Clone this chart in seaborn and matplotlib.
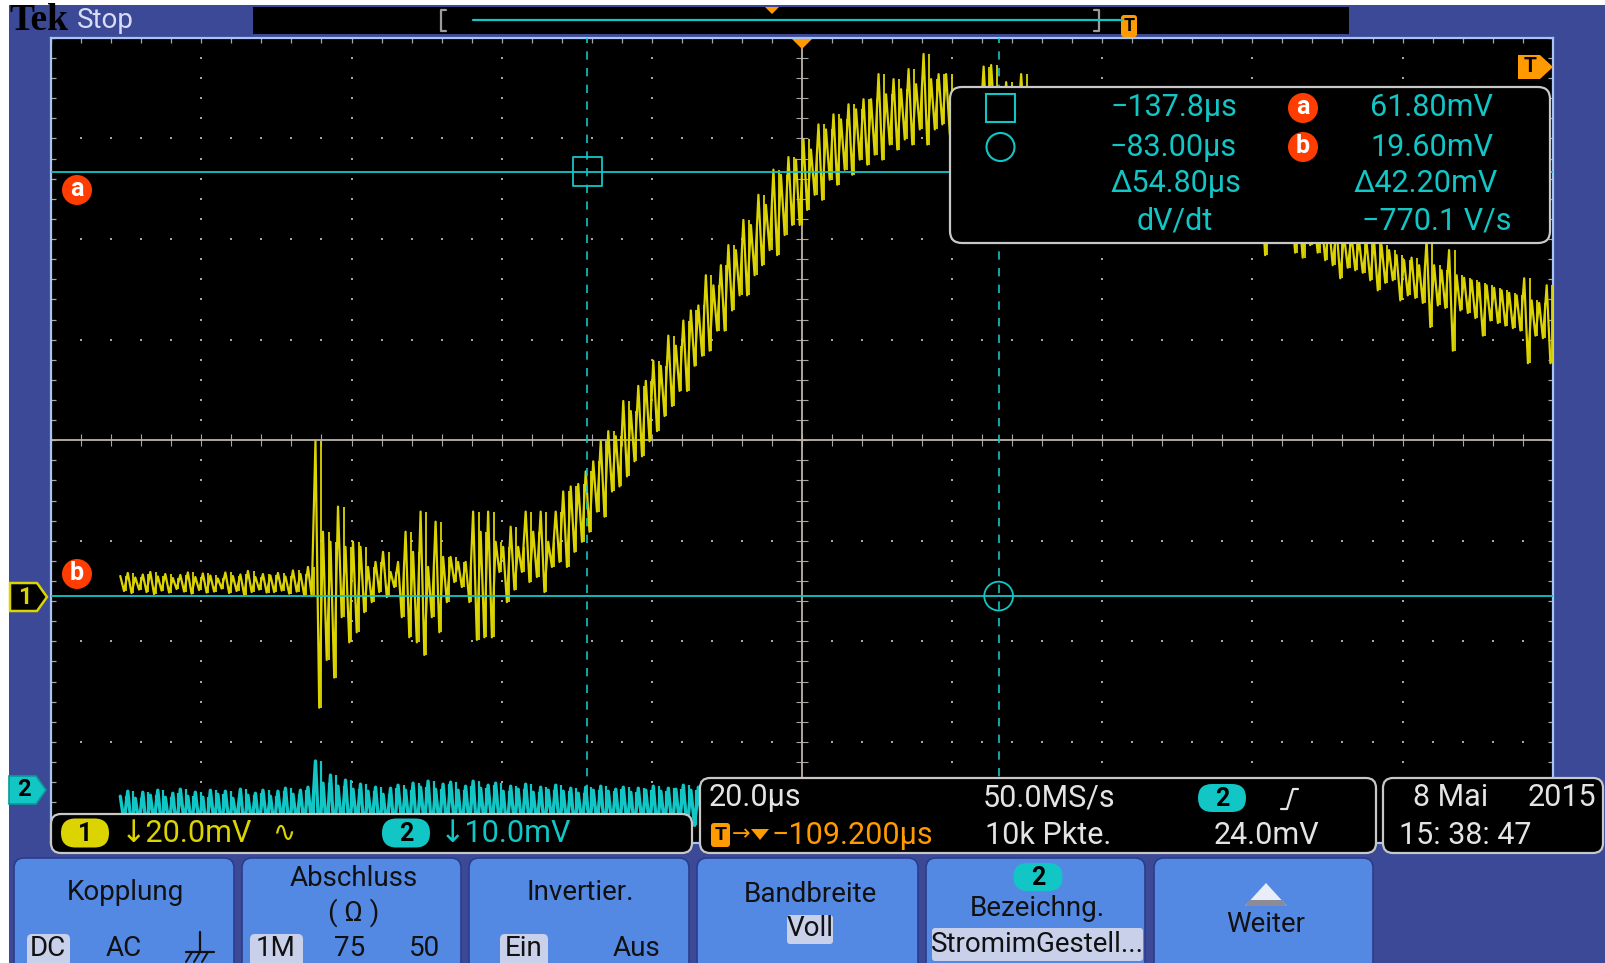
import numpy as np
import pandas as pd
import matplotlib
matplotlib.use("Agg")
import matplotlib.pyplot as plt
import seaborn as sns
from matplotlib.patches import Rectangle, FancyBboxPatch, Polygon, Circle

# ------------------------------------------------------------------ data
# horizontal / vertical settings read from the screen
time_center = -109.2      # µs at screen centre
time_per_div = 20.0       # µs/div
ch1_scale = 20.0          # mV/div
ch2_scale = 10.0          # mV/div
ch1_offset_div = -1.56    # ground marker position (div)
ch2_offset_div = -3.51
record_start = -200.0     # µs, first sample column
column_step = 1.0         # µs per min/max column

cursor_t = [-137.8, -83.00]     # µs  (square, circle)
cursor_v = [61.80, 19.60]       # mV  (a, b) on channel 2

# channel 1: max / min of every 1 µs column (mV)
ch1_hi = [
    4.2, 4.8, 3.9, 4.5, 5.0, 4.1, 4.6, 3.8, 4.4, 4.9,
    4.0, 4.7, 4.3, 3.7, 4.9, 4.2, 4.5, 5.2, 4.0, 4.6,
    4.3, 4.8, 4.1, 5.3, 4.6, 6.0, 31.0, 13.0, 11.0, 18.0,
    10.0, 11.0, 10.0, 6.0, 7.0, 9.0, 5.0, 7.0, 13.0, 9.0,
    17.0, 6.0, 15.0, 8.0, 8.0, 7.0, 7.0, 17.0, 13.0, 17.0,
    11.0, 10.0, 14.0, 10.0, 17.0, 13.0, 17.0, 11.0, 17.0, 21.0,
    22.0, 22.5, 25.0, 27.0, 31.0, 33.0, 32.0, 39.0, 37.0, 42.0,
    43.0, 47.0, 46.0, 52.0, 50.0, 55.0, 57.0, 58.0, 64.0, 62.0,
    66.0, 70.0, 69.0, 75.0, 74.0, 80.0, 78.0, 85.0, 84.0, 87.5,
    87.0, 91.0, 89.0, 94.0, 93.0, 96.0, 95.0, 98.0, 97.0, 99.0,
    99.0, 104.0, 100.0, 103.0, 101.0, 105.0, 102.0, 108.0, 103.0, 104.0,
    104.0, 100.0, 101.0, 100.5, 101.0, 105.5, 105.8, 101.0, 102.4, 100.5,
    104.0, 100.0, 99.0, 99.5, 98.0, 98.5, 97.0, 97.0, 96.0, 95.5,
    95.0, 94.5, 94.0, 93.0, 92.5, 92.0, 91.0, 90.5, 90.0, 89.0,
    88.0, 87.5, 87.0, 86.0, 85.5, 85.0, 84.0, 83.5, 83.0, 82.0,
    81.0, 80.0, 80.0, 79.0, 78.5, 78.0, 77.0, 77.0, 76.0, 75.5,
    75.0, 74.0, 73.5, 72.0, 72.0, 71.0, 70.5, 71.0, 70.0, 69.0,
    68.0, 67.0, 67.5, 66.0, 71.0, 66.0, 65.0, 69.0, 64.0, 63.5,
    63.0, 62.5, 62.0, 61.5, 61.0, 60.5, 60.0, 63.4, 59.0, 58.5, 62.0,
]
ch1_lo = [
    1.2, 0.8, 1.5, 1.0, 0.6, 1.3, 0.9, 1.6, 1.1, 0.7,
    1.4, 0.9, 1.1, 1.7, 0.8, 1.2, 0.5, 1.0, 1.5, 0.9,
    1.0, 1.3, 0.7, 1.1, 0.4, 0.2, -22.0, -12.5, -16.0, -4.0,
    -9.0, -7.0, -3.0, -1.0, 1.0, 0.0, 2.0, -4.0, -8.0, -9.0,
    -11.5, -4.0, -7.0, -1.0, 3.0, 2.0, -1.0, -8.5, -8.0, -8.0,
    5.0, -1.0, 1.5, 5.0, 3.0, 4.0, 1.0, 6.0, 7.0, 6.0,
    9.0, 11.0, 13.0, 17.0, 16.0, 21.0, 22.0, 24.0, 27.0, 28.0,
    31.0, 33.0, 36.0, 38.0, 41.0, 41.0, 46.0, 48.0, 49.0, 53.0,
    53.0, 57.0, 60.0, 60.0, 64.0, 66.0, 69.0, 68.0, 72.0, 74.0,
    74.0, 77.0, 80.0, 79.0, 83.0, 82.0, 85.0, 84.0, 87.0, 86.0,
    88.0, 87.0, 90.0, 89.0, 91.0, 90.0, 93.0, 90.0, 93.0, 94.0,
    92.0, 93.0, 92.0, 94.0, 93.0, 92.0, 94.0, 93.0, 92.0, 93.0,
    91.0, 90.0, 90.0, 89.0, 88.0, 88.0, 87.0, 86.0, 86.0, 85.0,
    84.0, 83.0, 83.0, 82.0, 81.0, 80.0, 80.0, 79.0, 78.0, 78.0,
    77.0, 76.0, 75.5, 75.0, 74.0, 74.0, 73.0, 72.5, 72.0, 71.5,
    71.0, 71.0, 68.0, 71.0, 70.8, 70.6, 68.5, 67.5, 70.0, 68.5,
    67.0, 66.0, 63.4, 65.5, 65.0, 64.5, 63.0, 61.0, 62.5, 63.0,
    59.0, 60.0, 59.5, 58.5, 53.7, 58.0, 57.5, 49.0, 57.0, 56.5,
    55.5, 52.0, 55.0, 54.5, 54.0, 53.5, 53.0, 46.5, 52.0, 51.5, 46.5,
]
# channel 2 (visible part only, rest hidden under the read-out boxes)
ch2_hi = [
    -0.3, 0.2, -0.5, 0.1, -0.2, 0.3, -0.4, 0.0, 0.4, -0.3,
    0.1, -0.4, 0.3, -0.1, 0.2, -0.5, 0.4, -0.2, 0.0, 0.3,
    -0.3, 0.2, 0.5, -0.1, 0.3, 0.6, 3.2, 1.0, 1.8, 0.7,
    1.3, 0.4, 0.9, 0.2, 0.6, -0.1, 0.5, 0.8, 0.3, 1.0,
    0.6, 1.2, 0.4, 0.9, 1.1, 0.3, 0.7, 1.2, 0.5, 0.8,
    1.0, 0.2, 0.7, 0.4, 0.9, 0.1, 0.6, 0.3, 0.8, 0.2,
    0.5, 0.0, 0.6, 0.3, 0.7, 0.2, 0.4, 0.6, 0.1, 0.5,
    0.3, 0.7, 0.2, 0.5, 0.4, 0.8, 0.3, 0.6, 0.9, 0.4,
    0.7, 0.5, 1.0, 0.6, 0.8, 1.1, 0.7, 0.9, 1.2, 0.8, 1.0,
]
ch2_lo = [
    -2.8, -3.4, -3.0, -3.6, -2.9, -3.3, -3.1, -3.5, -2.8, -3.2,
    -3.0, -3.6, -2.9, -3.4, -3.1, -2.8, -3.5, -3.0, -3.3, -2.9,
    -3.2, -3.0, -3.5, -2.9, -3.3, -3.1, -4.5, -3.8, -4.0, -3.4,
    -3.6, -3.1, -3.8, -3.0, -3.5, -3.2, -3.7, -3.0, -3.4, -3.6,
    -3.1, -3.8, -3.2, -3.5, -3.0, -3.6, -3.3, -3.9, -3.1, -3.4,
    -3.2, -3.7, -3.0, -3.5, -3.3, -3.1, -3.6, -3.0, -3.4, -3.2,
    -3.5, -3.1, -3.3, -3.0, -3.6, -3.2, -3.4, -3.1, -3.5, -3.0,
    -3.3, -3.6, -3.1, -3.4, -3.0, -3.5, -3.2, -3.3, -3.1, -3.6,
    -3.0, -3.4, -3.2, -3.5, -3.1, -3.3, -3.0, -3.6, -3.2, -3.4, -3.1,
]

# ------------------------------------------------------------------ style
W, H = 1606, 963
BLUE = "#3b4996"
BTN = "#5389e3"
BTN_EDGE = "#2c3c8a"
HL = "#c9d0ea"
YEL = "#dcd400"
CYAN = "#12c6c6"
ORANGE = "#ff9a00"
RED = "#ff3d00"
DOT = "#a6a6a6"
CENTER = "#bdb4a4"
BORDER = "#a9c3f2"
TXT = "#e4e4e4"

sns.set_theme(style="dark", rc={"axes.facecolor": "black"})
plt.rcParams["font.family"] = ["Roboto", "DejaVu Sans"]

fig = plt.figure(figsize=(W / 100, H / 100), dpi=100)
fig.patch.set_facecolor("white")

# background
bg = fig.add_axes([0, 0, 1, 1], zorder=0)
bg.set_xlim(0, W); bg.set_ylim(H, 0); bg.axis("off")
bg.add_patch(Rectangle((9, 5), W, H, fc=BLUE, ec="none"))

# graticule rectangle (pixels)
L, R, T, B = 51.2, 1552.7, 37.9, 842.5
rect = [L / W, 1 - B / H, (R - L) / W, (B - T) / H]

axg = fig.add_axes(rect, zorder=1)
axg.set_facecolor("black")
axg.set_xlim(-5, 5); axg.set_ylim(-4, 4)
axg.set_xticks([]); axg.set_yticks([])
axg.grid(False)
for s in axg.spines.values():
    s.set_visible(True); s.set_color(BORDER); s.set_linewidth(1.6)

ydots = np.arange(-4, 4.001, 0.2)
xdots = np.arange(-5, 5.001, 0.2)
vlines_div = [k for k in range(-4, 5) if k != 0]
hlines_div = [k for k in range(-3, 4) if k != 0]
gx = np.r_[np.repeat(vlines_div, len(ydots)), np.tile(xdots, len(hlines_div))]
gy = np.r_[np.tile(ydots, len(vlines_div)), np.repeat(hlines_div, len(xdots))]
axg.scatter(gx, gy, s=2.4, marker="s", c=DOT, linewidths=0)
axg.axhline(0, color=CENTER, lw=1.3)
axg.axvline(0, color=CENTER, lw=1.3)
axg.scatter(xdots, np.zeros_like(xdots), marker="|", s=70, c=DOT, linewidths=0.8)
axg.scatter(np.zeros_like(ydots), ydots, marker="_", s=70, c=DOT, linewidths=0.8)
for yb in (-4, 4):
    axg.scatter(xdots, np.full_like(xdots, yb), marker="|", s=50, c=DOT, linewidths=0.9)
for xb in (-5, 5):
    axg.scatter(np.full_like(ydots, xb), ydots, marker="_", s=50, c=DOT, linewidths=0.9)

# channel axes
xlim = (time_center - 5 * time_per_div, time_center + 5 * time_per_div)
ax1 = fig.add_axes(rect, zorder=2)
ax2 = fig.add_axes(rect, zorder=3)

cols1 = record_start + column_step * np.arange(len(ch1_hi))
df1 = pd.DataFrame({
    "t": np.column_stack([cols1, cols1 + column_step / 2]).ravel(),
    "mV": np.column_stack([ch1_hi, ch1_lo]).ravel(),
})
cols2 = record_start + column_step * np.arange(len(ch2_hi))
df2 = pd.DataFrame({
    "t": np.column_stack([cols2, cols2 + column_step / 2]).ravel(),
    "mV": np.column_stack([ch2_hi, ch2_lo]).ravel(),
})
sns.lineplot(data=df1, x="t", y="mV", ax=ax1, color=YEL, lw=1.6,
             estimator=None, sort=False)
# min/max extent of each display column, as drawn by the scope
ax1.vlines(cols1 + column_step * 0.75, ch1_lo, ch1_hi, color=YEL, lw=1.3)
sns.lineplot(data=df2, x="t", y="mV", ax=ax2, color=CYAN, lw=2.4,
             estimator=None, sort=False)
ax2.vlines(cols2 + column_step * 0.75, ch2_lo, ch2_hi, color=CYAN, lw=1.6)

# cursors (channel 2 units)
for v in cursor_v:
    ax2.axhline(v, color=CYAN, lw=1.3)
for tc in cursor_t:
    ax2.axvline(tc, color=CYAN, lw=1.2, ls=(0, (5, 5)))
ax2.scatter([cursor_t[0]], [cursor_v[0]], marker="s", s=430, facecolors="none",
            edgecolors=CYAN, linewidths=1.3)
ax2.scatter([cursor_t[1]], [cursor_v[1]], marker="o", s=430, facecolors="none",
            edgecolors=CYAN, linewidths=1.3)

for ax, sc, off in ((ax1, ch1_scale, ch1_offset_div), (ax2, ch2_scale, ch2_offset_div)):
    ax.set_xlim(*xlim)
    ax.set_ylim((-4 - off) * sc, (4 - off) * sc)
    ax.axis("off")
    ax.patch.set_visible(False)

# ------------------------------------------------------------------ screen UI
ui = fig.add_axes([0, 0, 1, 1], zorder=10)
ui.set_xlim(0, W); ui.set_ylim(H, 0); ui.axis("off")
ui.patch.set_visible(False)


def txt(x, y, s, color=TXT, size=22, ha="left", weight="normal", family=None):
    kw = {"family": family} if family else {}
    ui.text(x, y, s, color=color, fontsize=size, ha=ha, va="center",
            fontweight=weight, **kw)


def rbox(x0, y0, x1, y1, fc, ec="none", lw=1.0, r=10):
    ui.add_patch(FancyBboxPatch((x0, y0), x1 - x0, y1 - y0,
                                boxstyle=f"round,pad=0,rounding_size={r}",
                                fc=fc, ec=ec, lw=lw))


def pill(cx, cy, w, h, fc, label, lc="black"):
    rbox(cx - w / 2, cy - h / 2, cx + w / 2, cy + h / 2, fc, r=h / 2)
    txt(cx, cy + 1, label, color=lc, size=18, ha="center", weight="bold")


# top status line
txt(9, 21, "Tek", color="black", size=27, weight="bold", family=["Liberation Serif"])
txt(77, 20, "Stop", color="#d8dcf6", size=20)
ui.add_patch(Rectangle((253, 7), 1096, 27, fc="black", ec="none"))
ui.plot([446, 441, 441, 446], [10, 10, 31, 31], color="#9c9c9c", lw=1.6)
ui.plot([1094, 1099, 1099, 1094], [10, 10, 31, 31], color="#9c9c9c", lw=1.6)
ui.plot([473, 1122], [20, 20], color=CYAN, lw=1.6)
ui.add_patch(Polygon([(765, 7), (779, 7), (772, 14)], fc=ORANGE, ec="none"))
rbox(1121, 15, 1137, 37, ORANGE, r=3)
txt(1129, 26, "T", color="black", size=13, ha="center", weight="bold")

# graticule markers
ui.add_patch(Polygon([(792, 39), (812, 39), (802, 49)], fc=ORANGE, ec="none"))
ui.add_patch(Polygon([(1518, 55), (1540, 55), (1553, 67), (1540, 79), (1518, 79)],
                     fc=ORANGE, ec="none"))
txt(1530, 67, "T", color="black", size=15, ha="center", weight="bold")
for cy, lab in ((190, "a"), (574, "b")):
    ui.add_patch(Circle((77, cy), 15, fc=RED, ec="none"))
    txt(77, cy - 1, lab, color="white", size=18, ha="center", weight="bold")

# channel ground markers
ui.add_patch(Polygon([(10, 583), (37, 583), (47, 597), (37, 611), (10, 611)],
                     fc="black", ec=YEL, lw=1.8))
txt(25, 597, "1", color=YEL, size=17, ha="center", weight="bold")
ui.add_patch(Polygon([(9, 776), (36, 776), (46, 790), (36, 804), (9, 804)],
                     fc=CYAN, ec="#0a9a9a", lw=1.2))
txt(24, 790, "2", color="black", size=17, ha="center", weight="bold")

# cursor read-out
rbox(950, 87, 1550, 243, "black", ec="#c8c8c8", lw=1.6, r=12)
ui.add_patch(Rectangle((986, 94), 29, 28, fc="none", ec=CYAN, lw=1.5))
ui.add_patch(Circle((1000.5, 147), 14, fc="none", ec=CYAN, lw=1.5))
for cy, lab in ((108, "a"), (147, "b")):
    ui.add_patch(Circle((1303, cy), 15, fc=RED, ec="none"))
    txt(1303, cy - 1, lab, color="white", size=18, ha="center", weight="bold")
txt(1237, 108, "\u2212137.8µs", CYAN, ha="right")
txt(1237, 147, "\u221283.00µs", CYAN, ha="right")
txt(1241, 184, "Δ54.80µs", CYAN, ha="right")
txt(1175, 221, "dV/dt", CYAN, ha="center")
txt(1493, 108, "61.80mV", CYAN, ha="right")
txt(1493, 147, "19.60mV", CYAN, ha="right")
txt(1498, 184, "Δ42.20mV", CYAN, ha="right")
txt(1512, 221, "\u2212770.1 V/s", CYAN, ha="right")

# channel status box
rbox(51, 814, 692, 853, "black", ec="#c8c8c8", lw=1.6, r=10)
pill(85, 833, 48, 29, YEL, "1")
txt(121, 834, "↓20.0mV", YEL)
txt(272, 834, "∿", YEL, size=20)
pill(406, 833, 48, 29, CYAN, "2")
txt(440, 834, "↓10.0mV", CYAN)

# timebase / trigger box
rbox(700, 778, 1376, 853, "black", ec="#c8c8c8", lw=1.6, r=10)
txt(709, 798, "20.0µs")
txt(983, 798, "50.0MS/s")
pill(1222, 798, 48, 28, CYAN, "2")
ui.plot([1281, 1287, 1293, 1298], [809, 809, 789, 789], color=TXT, lw=1.6)
rbox(711, 823, 730, 847, ORANGE, r=3)
txt(720.5, 835, "T", color="black", size=14, ha="center", weight="bold")
txt(732, 835, "→", ORANGE, size=16)
ui.add_patch(Polygon([(751, 829), (769, 829), (760, 840)], fc=ORANGE, ec="none"))
txt(772, 835, "\u2212109.200µs", ORANGE)
txt(985, 835, "10k Pkte.")
txt(1214, 835, "24.0mV")

# date box
rbox(1383, 778, 1603, 853, "black", ec="#c8c8c8", lw=1.6, r=10)
txt(1413, 798, "8 Mai")
txt(1596, 798, "2015", ha="right")
txt(1399, 835, "15: 38: 47")

# soft-key buttons
buttons = [(14, 234), (242, 461), (469, 689), (697, 918), (926, 1145), (1154, 1373)]
for x0, x1 in buttons:
    rbox(x0, 858, x1, 985, BTN, ec=BTN_EDGE, lw=1.2, r=10)
BT = "#111111"
txt(125, 893, "Kopplung", BT, size=20, ha="center")
rbox(27, 934, 70, 975, HL, r=5)
txt(48, 949, "DC", BT, size=20, ha="center")
txt(124, 949, "AC", BT, size=20, ha="center")
ui.plot([200, 200], [932, 952], color=BT, lw=1.6)
ui.plot([186, 214], [952, 952], color=BT, lw=1.6)
for gx0 in (192, 200, 208):
    ui.plot([gx0, gx0 - 6], [952, 962], color=BT, lw=1.4)

txt(354, 879, "Abschluss", BT, size=20, ha="center")
txt(354, 913, "( Ω )", BT, size=20, ha="center")
rbox(250, 934, 303, 975, HL, r=5)
txt(276, 949, "1M", BT, size=20, ha="center")
txt(350, 949, "75", BT, size=20, ha="center")
txt(425, 949, "50", BT, size=20, ha="center")

txt(580, 893, "Invertier.", BT, size=20, ha="center")
rbox(500, 934, 548, 975, HL, r=5)
txt(524, 949, "Ein", BT, size=20, ha="center")
txt(637, 949, "Aus", BT, size=20, ha="center")

txt(810, 894, "Bandbreite", BT, size=20, ha="center")
rbox(787, 915, 833, 944, HL, r=3)
txt(810, 929, "Voll", BT, size=20, ha="center")

pill(1038, 877, 49, 28, CYAN, "2")
txt(1037, 909, "Bezeichng.", BT, size=20, ha="center")
rbox(932, 928, 1143, 961, HL, r=3)
txt(1037, 944, "StromimGestell...", BT, size=20, ha="center")

ui.add_patch(Polygon([(1245, 906), (1266, 883), (1287, 906)], fc="#e9edf8", ec="none"))
ui.add_patch(Polygon([(1250, 900), (1282, 900), (1287, 906), (1245, 906)],
                     fc="#8c8c98", ec="none"))
txt(1266, 925, "Weiter", BT, size=20, ha="center")

fig.savefig("out.png", dpi=100, facecolor=fig.get_facecolor())
